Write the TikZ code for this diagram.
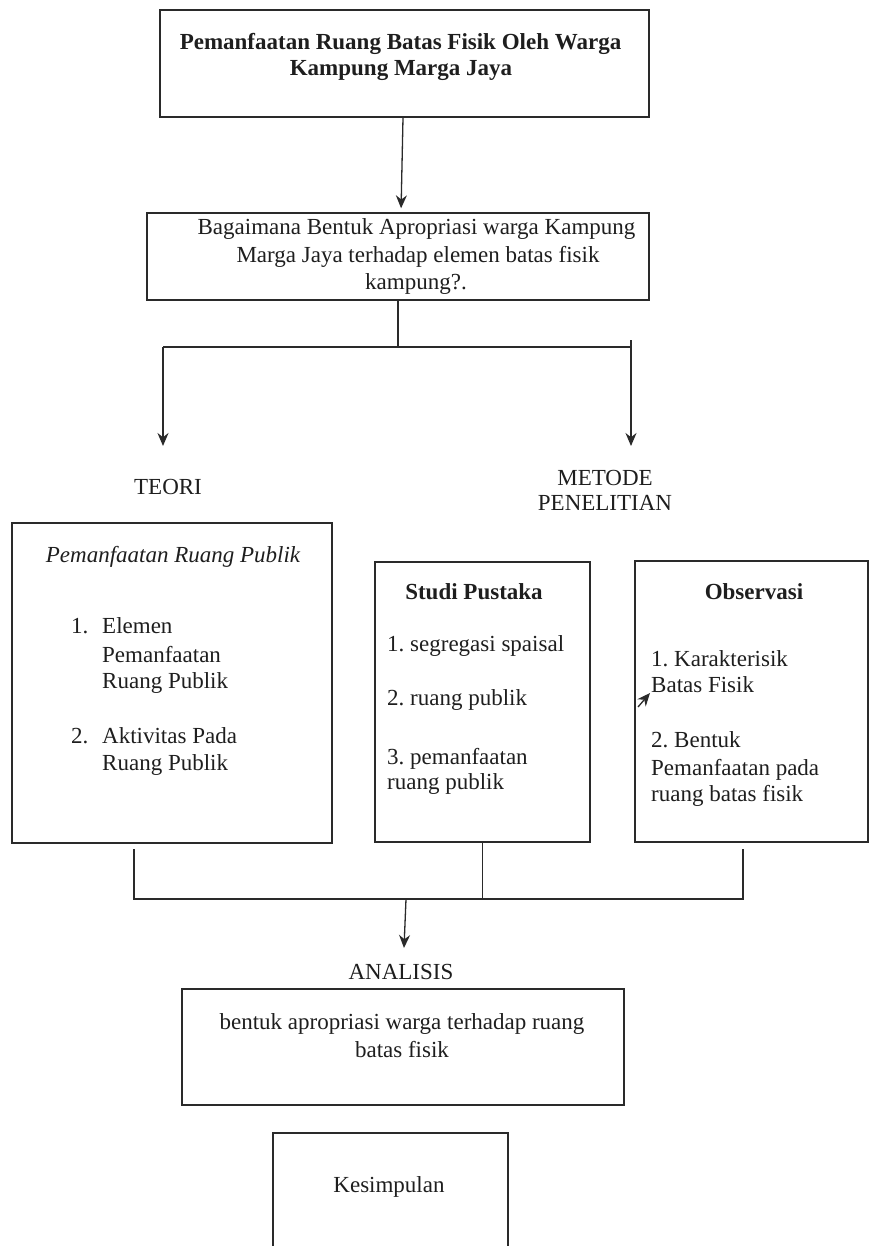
\documentclass[tikz,border=0pt]{standalone}
\usepackage{fontspec}
\setmainfont{Liberation Serif}
\usetikzlibrary{arrows.meta}
\definecolor{linec}{HTML}{2A2A2A}
\definecolor{txtc}{HTML}{1E1E1E}
\frenchspacing
\begin{document}
\begin{tikzpicture}[x=1pt,y=-1pt,
  font=\fontsize{23}{27}\selectfont\frenchspacing,
  box/.style={draw=linec,line width=1.4pt,inner sep=0pt},
  txt/.style={anchor=base,inner sep=0pt,text=txtc},
  ltxt/.style={anchor=base west,inner sep=0pt,text=txtc},
  conn/.style={draw=linec,line width=1.3pt},
  arr/.style={conn,-{Stealth[length=13pt,width=11pt]}}]
\useasboundingbox (0,0) rectangle (871,1246);
\clip (0,0) rectangle (871,1246);
% boxes
\node[box,minimum width=489pt,minimum height=107pt] (top) at (404.5,63.5) {};
\node[box,minimum width=502pt,minimum height=87pt] (second) at (398,256.5) {};
\node[box,minimum width=320pt,minimum height=320pt] (teoribox) at (172,683) {};
\node[box,minimum width=215pt,minimum height=280pt] (studi) at (482.5,702) {};
\node[box,minimum width=233pt,minimum height=281pt] (obs) at (751.5,701.5) {};
\node[box,minimum width=442pt,minimum height=116pt] (analisisbox) at (403,1047) {};
\node[box,minimum width=235pt,minimum height=137pt] (kesimpulan) at (390.5,1201.5) {};
% texts
\node[txt,font=\fontsize{23}{27}\selectfont\bfseries] at (400.5,50) {Pemanfaatan Ruang Batas Fisik Oleh Warga};
\node[txt,font=\fontsize{23}{27}\selectfont\bfseries] at (401,76) {Kampung Marga Jaya};
\node[txt] at (416.5,235) {Bagaimana Bentuk Apropriasi warga Kampung};
\node[txt] at (418,263) {Marga Jaya terhadap elemen batas fisik};
\node[txt] at (416,290) {kampung?.};
\node[txt] (teori) at (168,494) {TEORI};
\node[txt] (metode) at (605,485) {METODE};
\node[txt] at (605,510) {PENELITIAN};
\node[txt,font=\fontsize{23}{27}\selectfont\itshape] at (173,562) {Pemanfaatan Ruang Publik};
\node[ltxt] at (71,633) {1.};
\node[ltxt] at (102,633) {Elemen};
\node[ltxt] at (102,662) {Pemanfaatan};
\node[ltxt] at (102,688) {Ruang Publik};
\node[ltxt] at (71,743) {2.};
\node[ltxt] at (102,743) {Aktivitas Pada};
\node[ltxt] at (102,770) {Ruang Publik};
\node[txt,font=\fontsize{23}{27}\selectfont\bfseries] at (474,599) {Studi Pustaka};
\node[ltxt] at (387,651) {1. segregasi spaisal};
\node[ltxt] at (387,705) {2. ruang publik};
\node[ltxt] at (387,764) {3. pemanfaatan};
\node[ltxt] at (387,789) {ruang publik};
\node[txt,font=\fontsize{23}{27}\selectfont\bfseries] at (754,599) {Observasi};
\node[ltxt] at (651,666) {1. Karakterisik};
\node[ltxt] at (651,692) {Batas Fisik};
\node[ltxt] at (651,747) {2. Bentuk};
\node[ltxt] at (651,775) {Pemanfaatan pada};
\node[ltxt] at (651,801) {ruang batas fisik};
\node[txt] (analisis) at (401,979) {ANALISIS};
\node[txt] at (402,1029) {bentuk apropriasi warga terhadap ruang};
\node[txt] at (402,1057) {batas fisik};
\node[txt] at (389,1192) {Kesimpulan};
% connectors
\draw[arr,shorten >=4pt] ([xshift=-1.5pt]top.south) -- ([xshift=3pt]second.north);
\coordinate (split) at (398,347);
\coordinate (hl) at (163,347);
\coordinate (hr) at (631,347);
\coordinate (hrtop) at (631,340);
\coordinate (ta) at (163,446);
\coordinate (ma) at (631,446);
\draw[conn] (second.south) -- (split);
\draw[conn] (hl) -- (hr);
\draw[arr] (hl) -- (ta);
\draw[arr] (hrtop) -- (ma);
\coordinate (s1) at (638,707);
\coordinate (s2) at (650,693);
\draw[arr] (s1) -- (s2);
\coordinate (ml) at (134,849);
\coordinate (mr) at (743,849);
\coordinate (mlb) at (134,899);
\coordinate (mrb) at (743,899);
\coordinate (mdown) at (406,899);
\coordinate (atip) at (404,948);
\draw[conn] (ml) -- (mlb) -- (mrb) -- (mr);
\draw[conn] (studi.south) -- (studi.south |- mlb);
\draw[arr] (mdown) -- (atip);
\end{tikzpicture}
\end{document}
